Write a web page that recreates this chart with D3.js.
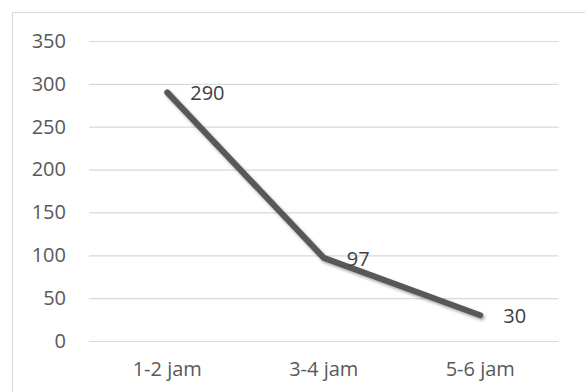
<!DOCTYPE html>
<html><head><meta charset="utf-8">
<script src="https://cdn.jsdelivr.net/npm/d3@7"></script>
<style>html,body{margin:0;padding:0;background:#fff;}</style>
</head><body>
<svg id="c" width="585" height="392"></svg>
<script>
const categories = ["1-2 jam", "3-4 jam", "5-6 jam"];
const values = [290, 97, 30];
const yTicks = [0, 50, 100, 150, 200, 250, 300, 350];

const svg = d3.select("#c");
const font = "'Open Sans', sans-serif";
const plot = {left: 89, right: 558.5, top: 41, bottom: 341};

// chart border (cropped on right/bottom)
svg.append("rect").attr("x", 12.5).attr("y", 12.5).attr("width", 600).attr("height", 400)
  .attr("fill", "#fff").attr("stroke", "#d9d9d9").attr("stroke-width", 1);

const x = d3.scaleBand().domain(categories).range([plot.left, plot.right]);
const y = d3.scaleLinear().domain([0, 350]).range([plot.bottom, plot.top]);

const defs = svg.append("defs");
const f = defs.append("filter").attr("id", "sh").attr("x", "-20%").attr("y", "-20%").attr("width", "140%").attr("height", "140%");
f.append("feDropShadow").attr("dx", 1.5).attr("dy", 2).attr("stdDeviation", 1.5)
  .attr("flood-color", "#000").attr("flood-opacity", 0.35);

// y axis with gridlines
const yAxis = d3.axisLeft(y).tickValues(yTicks).tickSize(-(plot.right - plot.left)).tickPadding(23);
const gy = svg.append("g").attr("transform", `translate(${plot.left},0)`).call(yAxis);
gy.select(".domain").remove();
gy.selectAll(".tick line").attr("stroke", "#d9d9d9").attr("stroke-width", 1.2);
gy.selectAll(".tick text").attr("fill", "#595959").style("font-family", font).style("font-size", "20px");

// x axis labels
const xAxis = d3.axisBottom(x).tickSize(0).tickPadding(21);
const gx = svg.append("g").attr("transform", `translate(0,${plot.bottom})`).call(xAxis);
gx.select(".domain").remove();
gx.selectAll(".tick text").attr("fill", "#595959").style("font-family", font).style("font-size", "20px");

const pts = categories.map((c, i) => ({c, v: values[i]}));
const line = d3.line().x(d => x(d.c) + x.bandwidth() / 2).y(d => y(d.v));
svg.append("path").datum(pts).attr("d", line).attr("fill", "none")
  .attr("stroke", "#595959").attr("stroke-width", 6).attr("stroke-linecap", "round")
  .attr("stroke-linejoin", "round").attr("filter", "url(#sh)");

svg.selectAll(".lbl").data(pts).enter().append("text").attr("class", "lbl")
  .attr("x", d => x(d.c) + x.bandwidth() / 2 + 23)
  .attr("y", d => y(d.v) + 1)
  .attr("dy", "0.35em")
  .attr("fill", "#404040").style("font-family", font).style("font-size", "20px")
  .text(d => d.v);
</script>
</body></html>
